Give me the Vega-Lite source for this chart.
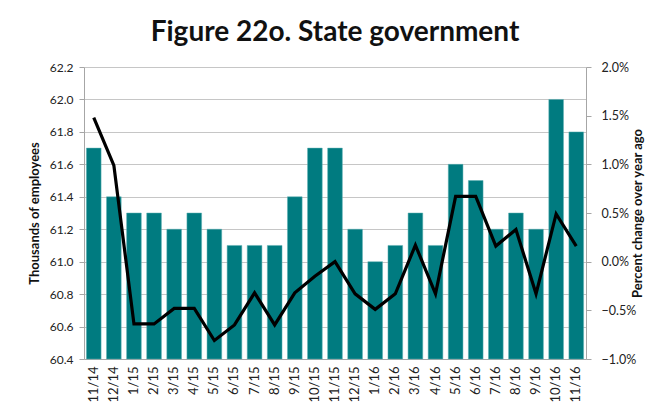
{
  "$schema": "https://vega.github.io/schema/vega-lite/v6.json",
  "width": 502,
  "height": 292,
  "autosize": {"type": "none"},
  "padding": {"left": 84, "top": 67, "right": 84, "bottom": 46},
  "background": "white",
  "title": {
    "text": "Figure 22o. State government",
    "font": "Lato",
    "fontSize": 28,
    "fontWeight": "bold",
    "color": "#111111",
    "anchor": "middle",
    "offset": 14
  },
  "config": {
    "view": {"stroke": null},
    "font": "Lato",
    "axis": {
      "labelFont": "Lato",
      "titleFont": "Lato",
      "labelColor": "#222222",
      "titleColor": "#111111",
      "domainColor": "#a6a6a6",
      "tickColor": "#a6a6a6",
      "gridColor": "#c6c6c6",
      "labelOverlap": false
    }
  },
  "data": {
    "values": [
      {"month": "11/14", "employees": 61.7, "pct": 0.0148},
      {"month": "12/14", "employees": 61.4, "pct": 0.0099},
      {"month": "1/15", "employees": 61.3, "pct": -0.0064},
      {"month": "2/15", "employees": 61.3, "pct": -0.0064},
      {"month": "3/15", "employees": 61.2, "pct": -0.0048},
      {"month": "4/15", "employees": 61.3, "pct": -0.0048},
      {"month": "5/15", "employees": 61.2, "pct": -0.0081},
      {"month": "6/15", "employees": 61.1, "pct": -0.0065},
      {"month": "7/15", "employees": 61.1, "pct": -0.0032},
      {"month": "8/15", "employees": 61.1, "pct": -0.0065},
      {"month": "9/15", "employees": 61.4, "pct": -0.0032},
      {"month": "10/15", "employees": 61.7, "pct": -0.0015},
      {"month": "11/15", "employees": 61.7, "pct": 0.0},
      {"month": "12/15", "employees": 61.2, "pct": -0.0033},
      {"month": "1/16", "employees": 61.0, "pct": -0.0049},
      {"month": "2/16", "employees": 61.1, "pct": -0.0033},
      {"month": "3/16", "employees": 61.3, "pct": 0.0017},
      {"month": "4/16", "employees": 61.1, "pct": -0.0033},
      {"month": "5/16", "employees": 61.6, "pct": 0.0067},
      {"month": "6/16", "employees": 61.5, "pct": 0.0067},
      {"month": "7/16", "employees": 61.2, "pct": 0.0016},
      {"month": "8/16", "employees": 61.3, "pct": 0.0033},
      {"month": "9/16", "employees": 61.2, "pct": -0.0033},
      {"month": "10/16", "employees": 62.0, "pct": 0.0049},
      {"month": "11/16", "employees": 61.8, "pct": 0.0016}
    ]
  },
  "encoding": {
    "x": {
      "field": "month",
      "type": "ordinal",
      "sort": null,
      "scale": {"paddingInner": 0.27, "paddingOuter": 0.12},
      "axis": {
        "title": null,
        "labelAngle": -90,
        "labelFontSize": 13,
        "labelPadding": 7,
        "ticks": false,
        "labelAlign": "right",
        "labelBaseline": "middle"
      }
    }
  },
  "layer": [
    {
      "mark": {"type": "bar", "color": "#007b80", "stroke": "#5fb0b3", "strokeWidth": 0.5},
      "encoding": {
        "y": {
          "field": "employees",
          "type": "quantitative",
          "scale": {"domain": [60.4, 62.2], "zero": false, "nice": false},
          "axis": {
            "title": "Thousands of employees",
            "titleFontSize": 13,
            "titleFontWeight": "bold",
            "titlePadding": 8,
            "labelFontSize": 12,
            "format": ".1f",
            "values": [60.4, 60.6, 60.8, 61.0, 61.2, 61.4, 61.6, 61.8, 62.0, 62.2],
            "tickSize": 5,
            "labelPadding": 6,
            "grid": true
          }
        },
        "y2": {"datum": 60.4}
      }
    },
    {
      "mark": {"type": "line", "color": "black", "strokeWidth": 3.2, "strokeJoin": "miter"},
      "encoding": {
        "y": {
          "field": "pct",
          "type": "quantitative",
          "scale": {"domain": [-0.01, 0.02], "nice": false, "zero": false},
          "axis": {
            "orient": "right",
            "title": "Percent change over year ago",
            "titleAngle": -90,
            "titleFontSize": 13,
            "titleFontWeight": "bold",
            "titlePadding": 9,
            "labelFontSize": 12.5,
            "format": ".1%",
            "values": [-0.01, -0.005, 0, 0.005, 0.01, 0.015, 0.02],
            "tickSize": 5,
            "labelPadding": 10,
            "grid": false
          }
        }
      }
    }
  ],
  "resolve": {"scale": {"y": "independent"}}
}
